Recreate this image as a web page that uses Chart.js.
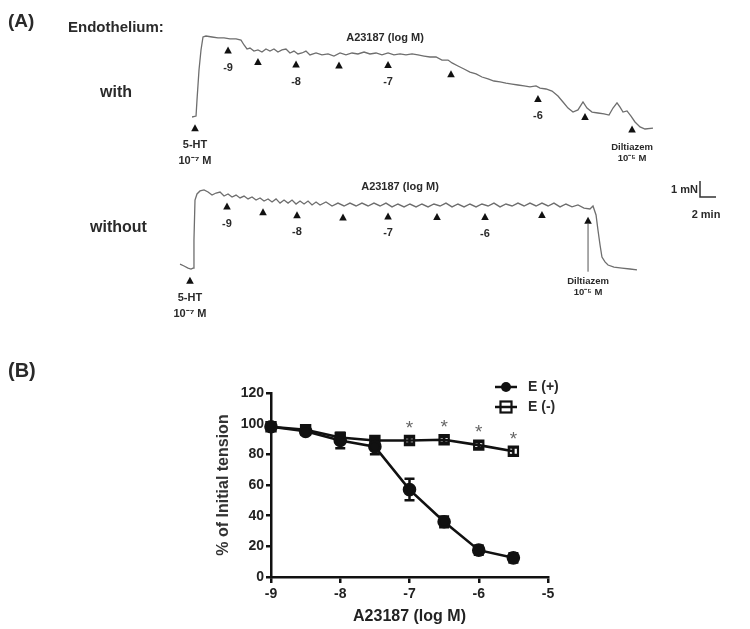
<!DOCTYPE html>
<html>
<head>
<meta charset="utf-8">
<script src="https://cdn.jsdelivr.net/npm/chart.js@4.4.1/dist/chart.umd.min.js"></script>
<style>
  html, body { margin: 0; padding: 0; background: #fff; }
  #wrap { position: relative; width: 750px; height: 629px; overflow: hidden; }
  canvas { position: absolute; left: 0; }
  #traces { top: 0; }
  #curve { top: 336px; }
</style>
</head>
<body>
<div id="wrap">
  <canvas id="traces" width="750" height="336"></canvas>
  <canvas id="curve" width="750" height="293"></canvas>
</div>
<script>
// ---- panel A: tension recordings (time in min from 5-HT, tension in mN above baseline) ----
const withTime = [-0.12, 0.38, 0.5, 0.75, 1.0, 1.25, 1.62, 2.38, 3.12, 3.88, 4.62, 5.38, 6.0, 6.38, 6.75, 7.12,
  7.62, 8.12, 8.62, 9.12, 9.62, 10.12, 10.62, 11.12, 11.62, 12.12, 12.62, 13.12, 13.62, 14.12, 14.62, 15.38,
  16.12, 16.88, 17.62, 18.38, 19.12, 19.88, 20.62, 21.38, 22.12, 22.88, 23.62, 24.38, 25.12, 25.88, 26.62,
  27.38, 28.12, 28.88, 29.62, 30.38, 31.12, 31.88, 32.38, 33.12, 33.88, 34.62, 35.38, 36.12, 36.88, 37.62,
  38.38, 39.12, 39.88, 40.62, 41.38, 42.12, 42.88, 43.38, 44.12, 44.88, 45.62, 46.25, 46.88, 47.5, 48.12,
  48.75, 49.25, 49.88, 50.62, 51.38, 52.0, 52.5, 53.0, 53.38, 53.75, 54.25, 54.75, 55.25, 55.88, 56.5, 57.5];
const withTension = [0, 0.06, 1.06, 2.94, 4.19, 5.0, 5.06, 5.0, 4.94, 4.94, 4.88, 4.88, 4.81, 4.5, 4.25, 4.31,
  4.12, 4.19, 4.06, 4.25, 4.12, 4.25, 4.06, 4.19, 4.25, 4.0, 4.12, 3.94, 4.0, 4.12, 3.88, 4.0,
  3.88, 3.94, 3.81, 4.0, 3.88, 4.0, 3.94, 4.06, 3.94, 4.0, 3.88, 4.0, 3.88, 3.94, 3.88,
  3.94, 3.88, 3.81, 3.75, 3.75, 3.56, 3.56, 3.38, 3.19, 3.0, 2.81, 2.69, 2.5, 2.38, 2.25,
  2.19, 2.12, 2.06, 2.0, 1.94, 1.88, 1.94, 1.81, 1.75, 1.62, 1.31, 0.94, 0.56, 0.31, 0.44,
  0.94, 0.56, 0.31, 0.25, 0.19, 0.12, 0.56, 0.88, 0.62, 0.31, 0.38, 0.06, -0.31, -0.62, -0.75, -0.69];

const withoutTime = [-1.62, -1.12, -0.62, -0.25, 0, 0.12, 0.25, 0.5, 0.88, 1.38, 1.88, 2.38, 2.88, 3.38, 3.88,
  4.38, 4.88, 5.38, 5.88, 6.38, 6.88, 7.38, 7.88, 8.38, 8.88, 9.38, 9.88, 10.38, 10.88, 11.38, 11.88, 12.38,
  12.88, 13.38, 13.88, 14.38, 14.88, 15.38, 15.88, 16.62, 17.38, 18.12, 18.88, 19.62, 20.38, 21.12, 21.88,
  22.62, 23.38, 24.12, 24.88, 25.62, 26.38, 27.12, 27.88, 28.62, 29.38, 30.12, 30.88, 31.62, 32.38, 33.12,
  33.88, 34.62, 35.38, 36.12, 36.88, 37.62, 38.38, 39.12, 39.88, 40.62, 41.38, 42.12, 42.88, 43.62, 44.38,
  45.12, 45.88, 46.62, 47.38, 48.12, 48.88, 49.62, 50.0, 50.38, 50.62, 50.88, 51.12, 51.5, 51.88, 52.62,
  53.62, 54.62, 55.5];
const withoutTension = [0.31, 0.19, 0.06, 0, 0.06, 1.81, 4.31, 4.69, 4.88, 4.94, 4.81, 4.62, 4.75, 4.81, 4.56,
  4.69, 4.5, 4.62, 4.44, 4.56, 4.38, 4.5, 4.31, 4.44, 4.25, 4.38, 4.19, 4.38, 4.12, 4.31, 4.12, 4.31,
  4.06, 4.25, 4.06, 4.25, 4.0, 4.19, 4.0, 4.19, 3.94, 4.12, 3.94, 4.12, 3.94, 4.12, 3.94,
  4.12, 3.94, 4.12, 3.88, 4.06, 3.88, 4.06, 3.88, 4.06, 3.88, 4.06, 3.94, 4.12, 3.88, 4.06,
  3.88, 4.06, 3.88, 4.06, 3.94, 4.12, 3.88, 4.06, 3.94, 4.12, 3.94, 4.12, 3.94, 4.12, 3.94,
  4.12, 3.88, 4.06, 3.88, 4.0, 3.81, 3.75, 3.94, 3.38, 2.44, 1.5, 0.75, 0.44, 0.25, 0.12,
  0.06, 0, -0.06];

// drug additions on each recording (min)
const withDoseTime = [0.25, 4.38, 8.12, 12.88, 18.25, 24.38, 32.25, 43.12, 49.0, 54.88];
const withoutDoseTime = [-0.38, 4.25, 8.75, 13.0, 18.75, 24.38, 30.5, 36.5, 43.62, 49.38];
const doseLabels = ['5-HT', '-9', '', '-8', '', '-7', '', '-6', '', 'Diltiazem'];

// ---- panel B: concentration-response ----
const logConc = [-9, -8.5, -8, -7.5, -7, -6.5, -6, -5.5];
const ePlusMean = [98, 95, 89, 85, 57, 36, 17.5, 12.5];
const ePlusSem = [2, 2, 5, 5, 7, 3.5, 3, 3];
const eMinusMean = [98, 96, 91, 89, 89, 89.5, 86, 82];
const eMinusSem = [2, 2, 2, 2, 2, 2, 2, 2.5];
const significant = [false, false, false, false, true, true, true, true];
const xTicks = [-9, -8, -7, -6, -5];
const yTicks = [0, 20, 40, 60, 80, 100, 120];

const FONT = '"Liberation Sans", Arial, sans-serif';
const INK = '#2a2a2a';
const TRACE = '#6e6e6e';

// vertical placement of the two recordings inside panel A (mN of the frame)
const withBase = 13.6875;
const withoutBase = 4.1875;
const markGap = 0.75;

function interp(ts, vs, t) {
  if (t <= ts[0]) return vs[0];
  for (let i = 1; i < ts.length; i++) {
    if (t <= ts[i]) {
      const f = (t - ts[i - 1]) / (ts[i] - ts[i - 1]);
      return vs[i - 1] + f * (vs[i] - vs[i - 1]);
    }
  }
  return vs[vs.length - 1];
}

function text(ctx, str, x, y, size, align, weight) {
  ctx.font = (weight || 'bold') + ' ' + size + 'px ' + FONT;
  ctx.textAlign = align || 'center';
  ctx.textBaseline = 'middle';
  ctx.fillText(str, x, y);
}

function triangle(ctx, x, y) {
  ctx.beginPath();
  ctx.moveTo(x, y - 4);
  ctx.lineTo(x + 3.8, y + 3);
  ctx.lineTo(x - 3.8, y + 3);
  ctx.closePath();
  ctx.fill();
}

const recordingMarks = {
  id: 'recordingMarks',
  afterDatasetsDraw(chart) {
    const ctx = chart.ctx;
    const xs = chart.scales.x, ys = chart.scales.y;
    ctx.save();
    ctx.fillStyle = INK;

    text(ctx, '(A)', 8, 22, 19, 'left');
    text(ctx, 'Endothelium:', 68, 28, 15, 'left');
    text(ctx, 'with', 100, 93, 16, 'left');
    text(ctx, 'without', 90, 228, 16, 'left');
    text(ctx, 'A23187 (log M)', 385, 38, 11);
    text(ctx, 'A23187 (log M)', 400, 187, 11);

    const rows = [
      { times: withDoseTime, ts: withTime, vs: withTension, base: withBase, lead: 0 },
      { times: withoutDoseTime, ts: withoutTime, vs: withoutTension, base: withoutBase, lead: 48 }
    ];
    rows.forEach(r => {
      r.times.forEach((t, i) => {
        const px = xs.getPixelForValue(t);
        const py = ys.getPixelForValue(r.base + interp(r.ts, r.vs, t) - markGap);
        ctx.fillStyle = '#111';
        triangle(ctx, px, py);
        ctx.fillStyle = INK;
        const lab = doseLabels[i];
        if (lab === '5-HT') {
          text(ctx, '5-HT', px, py + 17, 11);
          text(ctx, '10\u207B\u2077 M', px, py + 33, 11);
        } else if (lab === 'Diltiazem') {
          let off = 18;
          if (r.lead) {
            ctx.strokeStyle = '#555';
            ctx.lineWidth = 1;
            ctx.beginPath();
            ctx.moveTo(px, py + 3);
            ctx.lineTo(px, py + 3 + r.lead);
            ctx.stroke();
            off = r.lead + 13;
          }
          text(ctx, 'Diltiazem', px, py + off, 9.5);
          text(ctx, '10\u207B\u2075 M', px, py + off + 11, 9.5);
        } else if (lab) {
          text(ctx, lab, px, py + 17, 11);
        }
      });
    });

    // scale bar: 1 mN by 2 min
    const bx = xs.getPixelForValue(63.375), by = ys.getPixelForValue(8.6875);
    const top = ys.getPixelForValue(8.6875 + 1), right = xs.getPixelForValue(63.375 + 2);
    ctx.strokeStyle = '#333';
    ctx.lineWidth = 1.5;
    ctx.beginPath();
    ctx.moveTo(bx, top);
    ctx.lineTo(bx, by);
    ctx.lineTo(right, by);
    ctx.stroke();
    text(ctx, '1 mN', bx - 2, by - 7, 11, 'right');
    text(ctx, '2 min', bx + 6, by + 18, 11);
    ctx.restore();
  }
};

new Chart(document.getElementById('traces'), {
  type: 'line',
  data: {
    datasets: [
      { data: withTime.map((t, i) => ({ x: t, y: withBase + withTension[i] })), borderColor: TRACE, borderWidth: 1.3 },
      { data: withoutTime.map((t, i) => ({ x: t, y: withoutBase + withoutTension[i] })), borderColor: TRACE, borderWidth: 1.3 }
    ]
  },
  options: {
    responsive: false,
    animation: false,
    events: [],
    layout: { padding: 0 },
    elements: { point: { radius: 0 }, line: { tension: 0 } },
    plugins: { legend: { display: false }, tooltip: { enabled: false } },
    scales: {
      x: { type: 'linear', display: false, min: -24.125, max: 69.625 },
      y: { type: 'linear', display: false, min: 0, max: 21 }
    }
  },
  plugins: [recordingMarks]
});

// ---- panel B ----
const errorBars = {
  id: 'errorBars',
  beforeDatasetsDraw(chart) {
    const ctx = chart.ctx;
    const xs = chart.scales.x, ys = chart.scales.y;
    const sems = [ePlusSem, eMinusSem];
    const means = [ePlusMean, eMinusMean];
    ctx.save();
    ctx.strokeStyle = '#111';
    ctx.lineWidth = 2.5;
    [1, 0].forEach(d => {
      logConc.forEach((c, i) => {
        const x = xs.getPixelForValue(c);
        const y1 = ys.getPixelForValue(means[d][i] + sems[d][i]);
        const y2 = ys.getPixelForValue(means[d][i] - sems[d][i]);
        ctx.beginPath();
        ctx.moveTo(x, y1); ctx.lineTo(x, y2);
        ctx.moveTo(x - 5, y1); ctx.lineTo(x + 5, y1);
        ctx.moveTo(x - 5, y2); ctx.lineTo(x + 5, y2);
        ctx.stroke();
      });
    });
    ctx.restore();
  },
  afterDraw(chart) {
    const ctx = chart.ctx;
    const xs = chart.scales.x, ys = chart.scales.y;
    ctx.save();
    ctx.fillStyle = INK;
    text(ctx, '(B)', 8, 35, 20, 'left');

    // significance marks above E(-)
    ctx.fillStyle = '#666';
    logConc.forEach((c, i) => {
      if (!significant[i]) return;
      text(ctx, '*', xs.getPixelForValue(c), ys.getPixelForValue(eMinusMean[i]) - 12, 19, 'center', 'normal');
    });

    // legend
    chart.data.datasets.forEach((ds, d) => {
      const y = 51 + d * 20;
      ctx.strokeStyle = '#111';
      ctx.lineWidth = 2.5;
      ctx.beginPath();
      ctx.moveTo(495, y); ctx.lineTo(517, y);
      ctx.stroke();
      if (ds.pointStyle === 'rect') {
        ctx.lineWidth = 2.2;
        ctx.strokeRect(500.5, y - 5.5, 11, 11);
      } else {
        ctx.fillStyle = '#111';
        ctx.beginPath();
        ctx.arc(506, y, 5, 0, Math.PI * 2);
        ctx.fill();
      }
      ctx.fillStyle = INK;
      text(ctx, ds.label, 528, y, 14, 'left');
    });
    ctx.restore();
  }
};

new Chart(document.getElementById('curve'), {
  type: 'line',
  data: {
    datasets: [
      {
        label: 'E (+)',
        data: logConc.map((c, i) => ({ x: c, y: ePlusMean[i] })),
        borderColor: '#111', borderWidth: 2.6,
        pointStyle: 'circle', pointRadius: 5.5, pointBackgroundColor: '#111', pointBorderColor: '#111'
      },
      {
        label: 'E (-)',
        data: logConc.map((c, i) => ({ x: c, y: eMinusMean[i] })),
        borderColor: '#111', borderWidth: 2.6,
        pointStyle: 'rect', pointRadius: 6.5, pointBorderWidth: 2.2,
        pointBackgroundColor: 'rgba(0,0,0,0)', pointBorderColor: '#111'
      }
    ]
  },
  options: {
    responsive: false,
    animation: false,
    events: [],
    clip: false,
    layout: { padding: { left: 205, right: 202, top: 57, bottom: 0 } },
    elements: { line: { tension: 0 } },
    plugins: { legend: { display: false }, tooltip: { enabled: false } },
    scales: {
      x: {
        type: 'linear', min: -9, max: -5,
        afterBuildTicks: s => { s.ticks = xTicks.map(v => ({ value: v })); },
        afterFit: s => { s.height = 52; },
        border: { display: true, color: '#111', width: 2.5 },
        grid: { drawOnChartArea: false, drawTicks: true, tickLength: 6, color: '#111', lineWidth: 2.5 },
        ticks: { color: '#222', padding: 3, font: { family: FONT, size: 14, weight: 'bold' } },
        title: { display: true, text: 'A23187 (log M)', color: '#222', padding: { top: 0, bottom: 3 },
          font: { family: FONT, size: 16, weight: 'bold' } }
      },
      y: {
        type: 'linear', min: 0, max: 120,
        afterBuildTicks: s => { s.ticks = yTicks.map(v => ({ value: v })); },
        afterFit: s => { s.width = 66; },
        border: { display: true, color: '#111', width: 2.5 },
        grid: { drawOnChartArea: false, drawTicks: true, tickLength: 5, color: '#111', lineWidth: 2.5 },
        ticks: { color: '#222', padding: 2, font: { family: FONT, size: 14, weight: 'bold' } },
        title: { display: true, text: '% of Initial tension', color: '#333', padding: { top: 9, bottom: 0 },
          font: { family: FONT, size: 16, weight: 'bold' } }
      }
    }
  },
  plugins: [errorBars]
});
</script>
</body>
</html>
